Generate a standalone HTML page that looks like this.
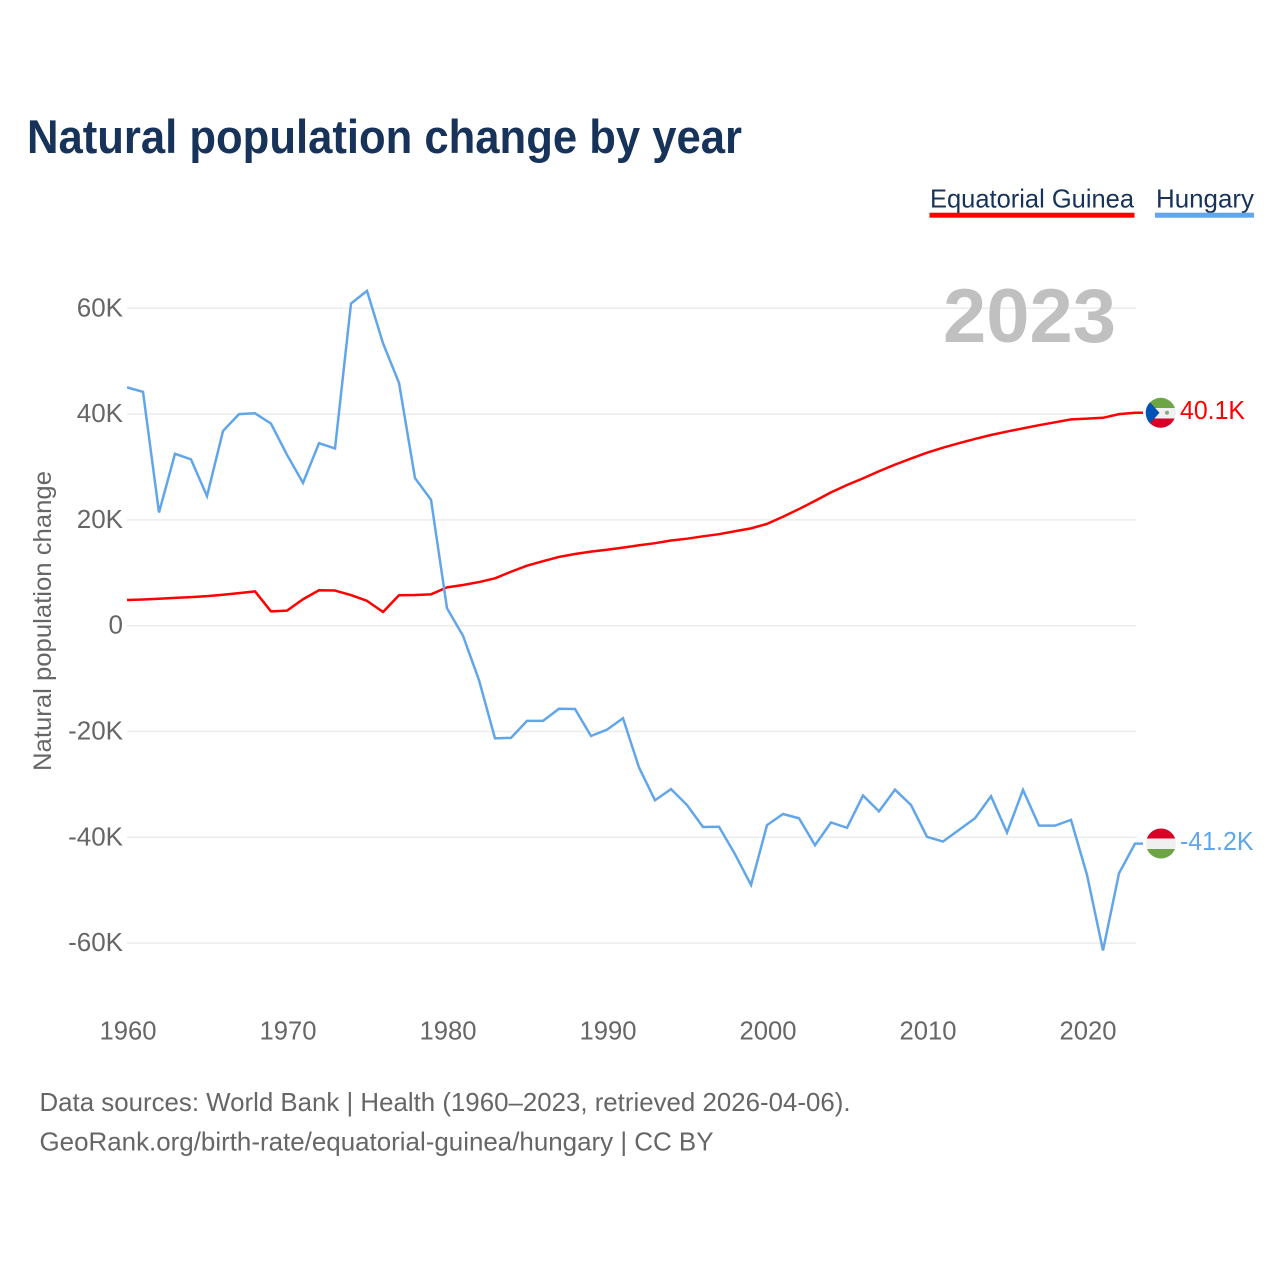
<!DOCTYPE html>
<html lang="en">
<head>
<meta charset="utf-8">
<title>Natural population change by year</title>
<style>
html,body{margin:0;padding:0;background:#fff;}
svg{display:block;}
text{font-family:"Liberation Sans",Arial,sans-serif;}
</style>
</head>
<body>
<svg id="chart" xmlns="http://www.w3.org/2000/svg" width="1280" height="1280" viewBox="0 0 1280 1280">
  <rect x="0" y="0" width="1280" height="1280" fill="#ffffff"/>
  <text x="27" y="153" font-size="47" font-weight="700" fill="#17335a" textLength="715" lengthAdjust="spacingAndGlyphs">Natural population change by year</text>

  <g>
    <g>
      <text x="930" y="207.5" font-size="26" fill="#17335a" textLength="204" lengthAdjust="spacingAndGlyphs">Equatorial Guinea</text>
      <rect x="929.5" y="212.7" width="205" height="5" fill="#ff0000"/>
    </g>
    <g>
      <text x="1156" y="207.5" font-size="26" fill="#17335a" textLength="98" lengthAdjust="spacingAndGlyphs">Hungary</text>
      <rect x="1155" y="212.7" width="99" height="5" fill="#62a6ea"/>
    </g>
  </g>

  <g id="grid"></g>
  <g id="yticks"></g>
  <g id="xticks"></g>

  <text transform="translate(51,771) rotate(-90)" x="0" y="0" font-size="25" fill="#666666" textLength="300" lengthAdjust="spacingAndGlyphs">Natural population change</text>

  <text x="943" y="342" font-size="76" font-weight="700" fill="#c0c0c0" textLength="173" lengthAdjust="spacingAndGlyphs">2023</text>

  <g id="series"></g>

  <defs>
    <clipPath id="flag-clip-eq"><circle cx="1160.7" cy="412.8" r="15"/></clipPath>
    <clipPath id="flag-clip-hu"><circle cx="1161" cy="843.5" r="15"/></clipPath>
  </defs>

  <g clip-path="url(#flag-clip-eq)">
    <rect x="1145" y="397" width="32" height="11" fill="#6da544"/>
    <rect x="1145" y="408" width="32" height="10.5" fill="#f0f0f0"/>
    <rect x="1145" y="418.5" width="32" height="11" fill="#d80027"/>
    <polygon points="1145,397 1159.5,412.8 1145,429" fill="#0052b4"/>
    <circle cx="1167" cy="412.8" r="2" fill="#8aa67a"/>
  </g>
  <text x="1180" y="419" font-size="25.5" fill="#ff0000" textLength="65" lengthAdjust="spacingAndGlyphs">40.1K</text>

  <g clip-path="url(#flag-clip-hu)">
    <rect x="1145" y="828" width="32" height="10.5" fill="#d80027"/>
    <rect x="1145" y="838.5" width="32" height="10.5" fill="#f0f0f0"/>
    <rect x="1145" y="849" width="32" height="11" fill="#6da544"/>
  </g>
  <text x="1180" y="850" font-size="25.5" fill="#62a6ea" textLength="73.5" lengthAdjust="spacingAndGlyphs">-41.2K</text>

  <text x="39.5" y="1111" font-size="26" fill="#666666" textLength="811" lengthAdjust="spacingAndGlyphs">Data sources: World Bank | Health (1960–2023, retrieved 2026-04-06).</text>
  <text x="39.5" y="1150.5" font-size="26" fill="#666666" textLength="674" lengthAdjust="spacingAndGlyphs">GeoRank.org/birth-rate/equatorial-guinea/hungary | CC BY</text>
</svg>

<script>
const firstYear = 1960;
const hungaryValues = [45.07,44.2,21.4,32.5,31.45,24.5,36.8,40.0,40.15,38.2,32.3,27.0,34.5,33.5,60.9,63.3,53.4,45.9,27.9,23.8,3.3,-1.9,-10.3,-21.3,-21.2,-18.0,-18.0,-15.7,-15.75,-20.85,-19.65,-17.5,-26.8,-33.0,-30.9,-33.9,-38.05,-38.0,-43.2,-49.0,-37.7,-35.6,-36.4,-41.5,-37.2,-38.2,-32.1,-35.1,-31.0,-33.9,-39.9,-40.8,-38.6,-36.4,-32.25,-39.1,-31.05,-37.8,-37.8,-36.7,-47.1,-61.4,-46.8,-41.2];
const equatorialGuineaValues = [4.86,4.95,5.1,5.25,5.4,5.6,5.85,6.15,6.5,2.7,2.85,5.0,6.7,6.65,5.8,4.7,2.6,5.75,5.8,5.93,7.25,7.7,8.25,8.96,10.2,11.35,12.2,13.0,13.55,14.0,14.35,14.75,15.2,15.6,16.1,16.45,16.9,17.3,17.85,18.4,19.25,20.6,22.05,23.6,25.2,26.6,27.85,29.2,30.45,31.6,32.7,33.65,34.5,35.3,36.05,36.7,37.3,37.9,38.45,39.0,39.15,39.3,40.0,40.25];
const yTickValues = [60,40,20,0,-20,-40,-60];
const yTickLabels = ["60K","40K","20K","0","-20K","-40K","-60K"];
const xTickValues = [1960,1970,1980,1990,2000,2010,2020];

const SVG_NS = "http://www.w3.org/2000/svg";
function xScale(year){ return 127 + (year - firstYear) * 16; }
function yScale(v){ return 625.7 - v * 5.29; }
function make(tag, attrs, parent){
  const el = document.createElementNS(SVG_NS, tag);
  for (const k in attrs) el.setAttribute(k, attrs[k]);
  parent.appendChild(el);
  return el;
}

const grid = document.getElementById("grid");
const yticks = document.getElementById("yticks");
yTickValues.forEach(function(v, i){
  const line = make("line", {x1:127, x2:1136, y1:yScale(v), y2:yScale(v), stroke:"#ebebeb", "stroke-width":1.5}, grid);
  
  
  const label = make("text", {x:123, y:yScale(v)+8, "text-anchor":"end", "font-size":26, fill:"#666666"}, yticks);
  
  
  label.textContent = yTickLabels[i];
});

const xticks = document.getElementById("xticks");
xTickValues.forEach(function(year){
  const label = make("text", {x:xScale(year)+1, y:1039.5, "text-anchor":"middle", "font-size":25.5, fill:"#666666", textLength:57, lengthAdjust:"spacingAndGlyphs"}, xticks);
  
  
  label.textContent = String(year);
});

function linePoints(values){
  const pts = values.map(function(v, i){ return xScale(firstYear + i).toFixed(2) + "," + yScale(v).toFixed(2); });
  const last = values.length - 1;
  pts.push((xScale(firstYear + last) + 8).toFixed(2) + "," + yScale(values[last]).toFixed(2));
  return pts.join(" ");
}

const series = document.getElementById("series");
const eqLine = make("polyline", {points:linePoints(equatorialGuineaValues), fill:"none", stroke:"#ff0000", "stroke-width":2.5, "stroke-linejoin":"round"}, series);


const hungaryLine = make("polyline", {points:linePoints(hungaryValues), fill:"none", stroke:"#62a6ea", "stroke-width":2.5, "stroke-linejoin":"miter"}, series);


</script>
</body>
</html>
